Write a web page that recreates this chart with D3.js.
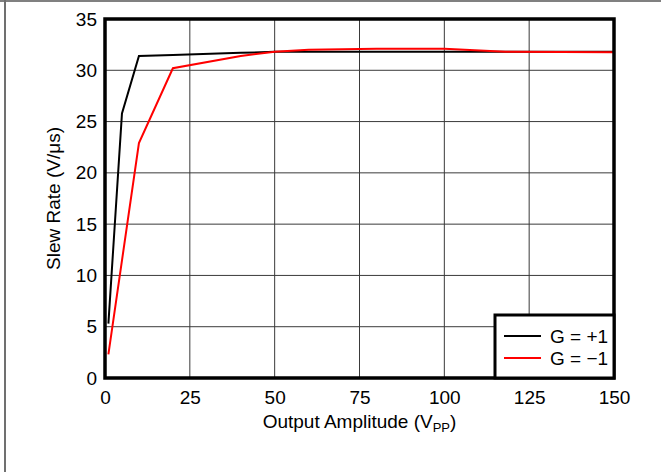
<!DOCTYPE html>
<html>
<head>
<meta charset="utf-8">
<script src="https://cdn.jsdelivr.net/npm/d3@7"></script>
<style>
  body { margin: 0; background: #fff; }
  text { font-family: "Liberation Sans", Arial, sans-serif; fill: #000; }
</style>
</head>
<body>
<div id="chart"></div>
<script>
// data
var ampGainPlus = [1, 5, 10, 20, 40, 50, 75, 100, 125, 150];
var srGainPlus  = [5.3, 25.8, 31.4, 31.5, 31.7, 31.8, 31.8, 31.8, 31.8, 31.8];
var ampGainMinus = [1, 10, 20, 40, 50, 60, 80, 100, 118, 150];
var srGainMinus  = [2.3, 22.9, 30.2, 31.4, 31.8, 32.0, 32.1, 32.1, 31.8, 31.75];
var xTicks = [0, 25, 50, 75, 100, 125, 150];
var yTicks = [0, 5, 10, 15, 20, 25, 30, 35];
var seriesNames = ["G = +1", "G = \u22121"];
var seriesColors = ["#000000", "#ff0000"];

var W = 661, H = 472;
var margin = {top: 19, right: 47, bottom: 94, left: 105},
    width = W - margin.left - margin.right,
    height = H - margin.top - margin.bottom;
var fontSize = "19px";

var svg = d3.select("#chart").append("svg")
    .attr("width", W)
    .attr("height", H);

// outer frame (top and left edges only visible)
svg.append("line").attr("x1", 0).attr("x2", W).attr("y1", 1).attr("y2", 1)
    .attr("stroke", "#808080").attr("stroke-width", 2);
svg.append("line").attr("x1", 5).attr("x2", 5).attr("y1", 0).attr("y2", H)
    .attr("stroke", "#707070").attr("stroke-width", 2);

var g = svg.append("g")
    .attr("transform", "translate(" + margin.left + "," + margin.top + ")");

var x = d3.scaleLinear().domain([0, 150]).range([0, width]);
var y = d3.scaleLinear().domain([0, 35]).range([height, 0]);

// grid
g.selectAll(".vgrid").data(xTicks).enter().append("line")
    .attr("x1", function(d) { return x(d); })
    .attr("x2", function(d) { return x(d); })
    .attr("y1", 0).attr("y2", height)
    .attr("stroke", "#3a3a3a").attr("stroke-width", 1);
g.selectAll(".hgrid").data(yTicks).enter().append("line")
    .attr("x1", 0).attr("x2", width)
    .attr("y1", function(d) { return y(d); })
    .attr("y2", function(d) { return y(d); })
    .attr("stroke", "#3a3a3a").attr("stroke-width", 1);

// axes (labels only)
var xAxis = g.append("g")
    .attr("transform", "translate(0," + height + ")")
    .call(d3.axisBottom(x).tickValues(xTicks).tickSize(0).tickPadding(13));
var yAxis = g.append("g")
    .call(d3.axisLeft(y).tickValues(yTicks).tickSize(0).tickPadding(8));
[xAxis, yAxis].forEach(function(a) {
    a.select(".domain").remove();
    a.attr("font-size", null).attr("font-family", null);
    a.selectAll("text").style("font-size", fontSize);
});

// series
var line = d3.line()
    .x(function(d) { return x(d[0]); })
    .y(function(d) { return y(d[1]); });

var plusData = d3.zip(ampGainPlus, srGainPlus);
var minusData = d3.zip(ampGainMinus, srGainMinus);

g.append("path").datum(plusData)
    .attr("d", line)
    .attr("fill", "none")
    .attr("stroke", seriesColors[0])
    .attr("stroke-width", 2);

g.append("path").datum(minusData)
    .attr("d", line)
    .attr("fill", "none")
    .attr("stroke", seriesColors[1])
    .attr("stroke-width", 2);

// plot frame
g.append("rect")
    .attr("x", 0).attr("y", 0)
    .attr("width", width).attr("height", height)
    .attr("fill", "none")
    .attr("stroke", "#000")
    .attr("stroke-width", 3.5);

// legend
var lg = g.append("g")
    .attr("transform", "translate(" + (width - 119) + "," + (height - 63) + ")");
lg.append("rect")
    .attr("width", 119).attr("height", 63)
    .attr("fill", "#fff")
    .attr("stroke", "#000")
    .attr("stroke-width", 3);
seriesNames.forEach(function(name, i) {
    var yy = 21 + i * 22;
    lg.append("line")
        .attr("x1", 9).attr("x2", 46)
        .attr("y1", yy).attr("y2", yy)
        .attr("stroke", seriesColors[i])
        .attr("stroke-width", 2);
    lg.append("text")
        .attr("x", 55).attr("y", yy + 7)
        .style("font-size", fontSize)
        .text(name);
});

// axis titles
var xt = svg.append("text")
    .attr("x", margin.left + width / 2)
    .attr("y", 428)
    .attr("text-anchor", "middle")
    .style("font-size", fontSize);
xt.append("tspan").text("Output Amplitude (V");
xt.append("tspan").attr("dy", 4).style("font-size", "13px").text("PP");
xt.append("tspan").attr("dy", -4).text(")");

svg.append("text")
    .attr("transform", "translate(60," + (margin.top + height / 2) + ") rotate(-90)")
    .attr("text-anchor", "middle")
    .style("font-size", fontSize)
    .text("Slew Rate (V/\u03bcs)");
</script>
</body>
</html>
